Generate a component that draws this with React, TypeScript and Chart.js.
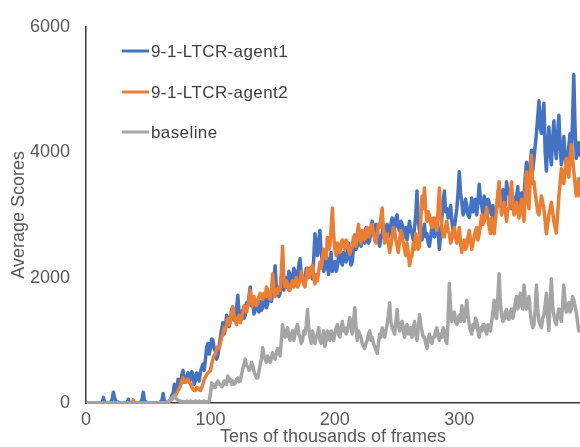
import React, { useEffect, useRef } from "react";
import { Chart, registerables } from "chart.js";

Chart.register(...registerables);

// x positions: tens of thousands of frames (one sample per unit)
const frames: number[] = Array.from({ length: 400 }, (_, i) => i);

const agent1: number[] = [
  0, 0, 0, 0, 0, 0, 0, 0, 0, 0, 0, 0, 0, 0, 90, 10, 0, 0, 0, 0,
  20, 60, 170, 80, 30, 10, 10, 0, 0, 0, 0, 0, 0, 0, 60, 0, 0, 0, 0, 0,
  0, 0, 0, 0, 10, 60, 170, 40, 20, 0, 0, 0, 0, 0, 0, 0, 0, 0, 0, 0,
  20, 40, 150, 30, 10, 0, 20, 30, 60, 120, 150, 300, 250, 180, 380, 260, 300, 450, 520, 330,
  350, 420, 480, 330, 380, 500, 450, 300, 360, 480, 420, 350, 500, 560, 620, 520, 700, 900, 950, 780,
  880, 1020, 1000, 870, 820, 700, 760, 900, 1050, 1180, 1280, 1100, 1200, 1400, 1350, 1220, 1300, 1500, 1450, 1320,
  1380, 1500, 1720, 1420, 1300, 1450, 1480, 1350, 1400, 1600, 1550, 1700, 1850, 1550, 1600, 1420, 1480, 1620, 1550, 1450,
  1620, 1480, 1520, 1700, 1650, 1520, 1580, 1750, 1700, 1620, 1780, 1950, 2190, 1800, 1850, 1700, 1750, 2000, 1950, 1800,
  2000, 1850, 1880, 2100, 2050, 1900, 1950, 2150, 2100, 1950, 1980, 2200, 2300, 2050, 2020, 1900, 1950, 2150, 2080, 2000,
  2150, 2050, 1980, 2300, 2700, 2450, 2350, 2600, 2750, 2400, 2250, 2100, 2150, 2350, 2200, 2050, 2300, 2400, 2100, 2200,
  2250, 2100, 2180, 2350, 2400, 2250, 2200, 2400, 2350, 2250, 2420, 2550, 2300, 2200, 2250, 2500, 2680, 2450, 2500, 2700,
  2600, 2500, 2750, 2650, 2550, 2800, 2700, 2550, 2600, 2800, 2900, 2700, 2650, 2850, 2800, 2600, 2500, 2650, 2700, 2850,
  2600, 2700, 2850, 2650, 2700, 2850, 2950, 2750, 2800, 2950, 3000, 2800, 2750, 2900, 2850, 2700, 2650, 2800, 2600, 2750,
  2900, 2750, 2700, 2600, 2800, 3000, 3380, 2900, 2750, 2650, 2600, 2750, 2850, 2650, 2700, 2550, 2500, 2650, 2800, 2700,
  2650, 2750, 2900, 2700, 2450, 2700, 2950, 3200, 3380, 3050, 3100, 2950, 3000, 3150, 2900, 2750, 2800, 2950, 3100, 3350,
  3690, 3350, 3200, 3000, 3050, 3250, 3150, 3000, 2960, 3100, 3270, 3050, 3100, 3250, 3000, 3200, 3490, 3250, 3150, 3000,
  3300, 3150, 3050, 3250, 3200, 3050, 3000, 3150, 2950, 3050, 3100, 3300, 3460, 3150, 3200, 3400, 3300, 3150, 3530, 3350,
  3400, 3250, 3100, 3300, 3200, 3050, 3300, 3450, 3000, 3200, 3350, 3150, 3300, 3600, 3840, 3600, 3500, 3800, 4030, 3700,
  3900, 4100, 4300, 4550, 4820, 4400, 4300, 4600, 4780, 4000, 3700, 4100, 4400, 4000, 3800, 4200, 4500, 4100, 3900, 4300,
  4590, 4100, 3800, 4000, 4250, 3950, 3750, 3900, 4100, 4300, 3850, 4500, 5240, 4400, 3900, 4050, 4150, 3950, 3800, 3700,
];

const agent2: number[] = [
  0, 0, 0, 0, 0, 0, 0, 0, 0, 0, 0, 0, 0, 0, 0, 0, 0, 0, 0, 0,
  0, 0, 0, 0, 0, 0, 0, 0, 0, 0, 0, 0, 0, 0, 0, 0, 0, 0, 50, 0,
  0, 0, 0, 0, 0, 0, 0, 0, 0, 0, 0, 0, 0, 0, 0, 0, 0, 0, 0, 0,
  0, 0, 0, 0, 10, 0, 20, 30, 40, 60, 80, 100, 120, 160, 200, 240, 280, 350, 400, 350,
  330, 360, 380, 330, 300, 250, 220, 200, 200, 250, 230, 210, 200, 250, 300, 380, 420, 450, 480, 500,
  520, 620, 700, 760, 780, 850, 900, 880, 950, 1050, 1100, 1200, 1150, 1250, 1350, 1250, 1300, 1450, 1540, 1400,
  1300, 1250, 1350, 1400, 1280, 1350, 1450, 1550, 1500, 1450, 1550, 1650, 1800, 1600, 1550, 1700, 1650, 1550, 1600, 1700,
  1750, 1700, 1650, 1750, 1700, 1850, 1800, 1700, 1650, 1800, 2060, 1850, 1700, 1800, 1750, 1850, 1800, 2100, 2500, 2000,
  1850, 1950, 1900, 1800, 1800, 1900, 1950, 1850, 1900, 2000, 1850, 1900, 1950, 2100, 2000, 1900, 1850, 2000, 2150, 2000,
  2050, 2150, 2200, 2000, 1900, 2050, 1950, 2100, 2250, 2150, 2300, 2450, 2400, 2300, 2640, 2450, 2500, 2800, 3110, 2700,
  2450, 2350, 2550, 2450, 2400, 2550, 2600, 2500, 2450, 2600, 2550, 2450, 2370, 2450, 2500, 2650, 2600, 2500, 2700, 2850,
  2650, 2550, 2750, 2650, 2600, 2750, 2800, 2650, 2700, 2800, 2850, 2700, 2600, 2550, 2700, 2850, 2800, 2950, 3110, 2800,
  2550, 2600, 2700, 2550, 2400, 2500, 2650, 2800, 2750, 2600, 2500, 2400, 2600, 2750, 2700, 2550, 2450, 2350, 2550, 2400,
  2190, 2300, 2350, 2550, 2450, 2700, 2600, 2450, 2500, 2900, 3300, 3100, 3430, 3100, 2900, 3050, 3000, 2850, 2800, 2950,
  2950, 2850, 2750, 3100, 3430, 3000, 2800, 2650, 2650, 2800, 2900, 2750, 2700, 2550, 2600, 2750, 2800, 2650, 2550, 2650,
  2800, 2550, 2400, 2500, 2600, 2450, 2500, 2650, 2750, 2600, 2450, 2550, 2650, 2750, 2800, 2600, 2700, 2850, 3000, 2850,
  2900, 3000, 3120, 2950, 2800, 2700, 2950, 2850, 2700, 2900, 3100, 3350, 3530, 3200, 3000, 3100, 3200, 3050, 2900, 3100,
  3100, 3300, 3530, 3200, 3000, 3100, 3200, 3050, 2950, 3100, 3250, 3050, 2900, 3300, 3690, 3300, 3100, 3600, 3950, 3500,
  3530, 3350, 3200, 3050, 3000, 3150, 3300, 3200, 3100, 2900, 2700, 2850, 3000, 3100, 3200, 3050, 2900, 2800, 2710, 3000,
  3300, 3500, 3740, 3600, 3500, 3700, 3900, 3750, 3600, 3900, 4120, 3900, 3700, 3500, 3300, 3450, 3580, 3300, 3000, 3100,
];

const baseline: number[] = [
  0, 0, 0, 0, 0, 0, 0, 0, 0, 0, 0, 0, 0, 0, 0, 0, 0, 0, 0, 0,
  0, 0, 0, 0, 0, 0, 0, 0, 0, 0, 0, 0, 0, 0, 0, 0, 0, 0, 0, 0,
  0, 0, 0, 0, 0, 0, 0, 0, 0, 0, 0, 0, 0, 0, 0, 0, 0, 0, 0, 0,
  0, 0, 0, 0, 0, 0, 20, 40, 60, 80, 100, 120, 80, 60, 40, 30, 30, 20, 20, 20,
  20, 30, 20, 20, 30, 20, 20, 20, 30, 20, 20, 30, 20, 20, 20, 30, 20, 20, 20, 30,
  150, 320, 300, 250, 250, 320, 350, 300, 300, 260, 280, 350, 330, 300, 430, 350, 380, 300, 350, 300,
  320, 380, 400, 340, 360, 450, 540, 620, 700, 600, 580, 520, 550, 650, 600, 500, 450, 400, 400, 500,
  620, 700, 880, 750, 700, 650, 750, 700, 650, 720, 800, 720, 700, 800, 870, 800, 750, 1000, 1250, 1100,
  1050, 1150, 1200, 1050, 1000, 1100, 1150, 1000, 1100, 1200, 1250, 1100, 1050, 950, 1000, 1150, 1100, 1250, 1490, 1200,
  1050, 950, 1150, 1050, 950, 1050, 1100, 1200, 1000, 950, 1050, 1150, 900, 1000, 1150, 1050, 1000, 1150, 1100, 1000,
  1100, 1200, 1250, 1100, 1050, 1200, 1300, 1150, 1200, 1100, 1150, 1250, 1360, 1200, 1100, 1300, 1520, 1200, 1000, 1150,
  1100, 1050, 950, 900, 870, 950, 1000, 1100, 1150, 1000, 1050, 950, 900, 850, 790, 950, 1100, 1050, 1200, 1100,
  1050, 1150, 1250, 1400, 1600, 1300, 1200, 1150, 1100, 1300, 1490, 1250, 1150, 1250, 1300, 1150, 1050, 1200, 1250, 1100,
  1100, 1200, 1050, 1150, 1300, 1100, 1000, 1200, 1410, 1250, 1150, 1050, 1050, 950, 870, 1000, 1100, 1000, 950, 1050,
  1050, 1150, 1200, 1050, 1000, 1100, 1050, 1200, 1150, 1000, 950, 1350, 1910, 1500, 1300, 1400, 1450, 1300, 1250, 1350,
  1400, 1300, 1550, 1400, 1300, 1450, 1640, 1400, 1250, 1150, 1100, 1250, 1200, 1350, 1300, 1150, 1050, 1200, 1150, 1250,
  1250, 1150, 1100, 1250, 1200, 1150, 1300, 1450, 1640, 1400, 1350, 1700, 2060, 1600, 1400, 1300, 1330, 1450, 1490, 1350,
  1330, 1450, 1500, 1350, 1450, 1600, 1700, 1500, 1550, 1750, 1650, 1500, 1880, 1650, 1500, 1600, 1700, 1450, 1300, 1200,
  1250, 1500, 1880, 1500, 1300, 1250, 1200, 1350, 1400, 1550, 1750, 1400, 1160, 1600, 1980, 1550, 1400, 1300, 1250, 1400,
  1500, 1400, 1300, 1550, 1880, 1600, 1450, 1550, 1600, 1450, 1500, 1700, 1640, 1550, 1450, 1300, 1150, 1200, 1250, 1300,
];

const seriesNames: string[] = ["9-1-LTCR-agent1", "9-1-LTCR-agent2", "baseline"];
const seriesColors: string[] = ["#4472C4", "#ED7D31", "#A5A5A5"];
const yTicks: number[] = [0, 2000, 4000, 6000];
const xTicks: number[] = [0, 100, 200, 300];

const FONT = "'Liberation Sans', Arial, sans-serif";

const legendPlugin = {
  id: "insideLegend",
  afterDraw(chart: any) {
    const ctx = chart.ctx as CanvasRenderingContext2D;
    ctx.save();
    const ys = [51, 92, 132];
    seriesNames.forEach((name, i) => {
      ctx.strokeStyle = seriesColors[i];
      ctx.lineWidth = 3;
      ctx.beginPath();
      ctx.moveTo(122, ys[i]);
      ctx.lineTo(149, ys[i]);
      ctx.stroke();
      ctx.fillStyle = "#404040";
      ctx.font = `17px ${FONT}`;
      (ctx as any).letterSpacing = "0.4px";
      ctx.textAlign = "left";
      ctx.textBaseline = "middle";
      ctx.fillText(name, 151, ys[i] + 1);
    });
    ctx.restore();
  },
};

export default function App() {
  const ref = useRef<HTMLCanvasElement | null>(null);

  useEffect(() => {
    if (!ref.current) return;
    const mk = (vals: number[]) => vals.map((v, i) => ({ x: frames[i], y: v }));
    const data = [agent1, agent2, baseline];
    const chart = new Chart(ref.current, {
      type: "line",
      data: {
        datasets: data.map((vals, i) => ({
          label: seriesNames[i],
          data: mk(vals),
          borderColor: seriesColors[i],
          backgroundColor: seriesColors[i],
          borderWidth: 3.5,
          pointRadius: 0,
          tension: 0,
          borderJoinStyle: "round" as const,
          borderCapStyle: "round" as const,
          order: i === 0 ? 2 : i === 1 ? 1 : 0,
          fill: false,
        })),
      },
      options: {
        animation: false,
        responsive: false,
        devicePixelRatio: 1,
        layout: { padding: { top: 15, right: 0, left: 0, bottom: 0 } },
        plugins: {
          legend: { display: false },
          tooltip: { enabled: false },
        },
        scales: {
          x: {
            type: "linear",
            min: 0,
            max: 397,
            afterBuildTicks: (s: any) => {
              s.ticks = xTicks.map((v) => ({ value: v }));
            },
            afterFit: (s: any) => {
              s.height = 44;
            },
            grid: { display: false, drawTicks: false },
            border: { display: true, color: "#3a3a3a", width: 1.5 },
            ticks: {
              color: "#595959",
              font: { family: FONT, size: 18 },
              padding: 6,
              maxRotation: 0,
              callback: (v: any) => String(v),
            },
            title: {
              display: true,
              text: "Tens of thousands of frames",
              color: "#595959",
              font: { family: FONT, size: 18 },
              padding: { top: 0, bottom: -1 },
            },
          },
          y: {
            type: "linear",
            min: 0,
            max: 6000,
            afterBuildTicks: (s: any) => {
              s.ticks = yTicks.map((v) => ({ value: v }));
            },
            afterFit: (s: any) => {
              s.width = 86;
            },
            grid: { display: false, drawTicks: false },
            border: { display: true, color: "#3a3a3a", width: 1.5 },
            ticks: {
              color: "#595959",
              font: { family: FONT, size: 18 },
              padding: 16,
              callback: (v: any) => String(v),
            },
            title: {
              display: true,
              text: "Average Scores",
              color: "#595959",
              font: { family: FONT, size: 18 },
              padding: { top: 8, bottom: 0 },
            },
          },
        },
      },
      plugins: [legendPlugin],
    });
    return () => chart.destroy();
  }, []);

  return (
    <div style={{ position: "absolute", left: 0, top: 0, width: 580, height: 447, background: "#fff" }}>
      <canvas ref={ref} width={580} height={447} style={{ display: "block", width: 580, height: 447 }} />
    </div>
  );
}
